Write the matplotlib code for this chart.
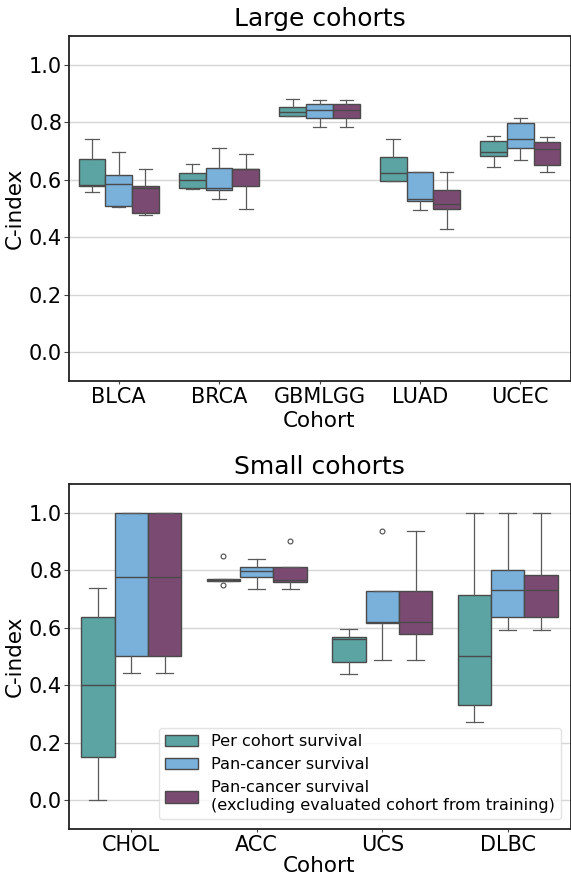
import matplotlib
matplotlib.use("Agg")
import matplotlib.pyplot as plt
from matplotlib.patches import Patch

# C-index summaries per cohort; one inner list per model, one value per cohort
SERIES = ["Per cohort survival",
          "Pan-cancer survival",
          "Pan-cancer survival\n(excluding evaluated cohort from training)"]
COLORS = ["#5ba4a3", "#79b1db", "#7b4a73"]

LARGE_COHORTS = ["BLCA", "BRCA", "GBMLGG", "LUAD", "UCEC"]
LARGE_LO = [[0.557, 0.569, 0.821, 0.595, 0.643],
            [0.504, 0.532, 0.785, 0.494, 0.669],
            [0.476, 0.497, 0.785, 0.429, 0.628]]
LARGE_Q1 = [[0.577, 0.573, 0.823, 0.595, 0.681],
            [0.508, 0.563, 0.815, 0.525, 0.711],
            [0.484, 0.580, 0.815, 0.498, 0.653]]
LARGE_MED = [[0.583, 0.598, 0.835, 0.622, 0.698],
             [0.584, 0.573, 0.844, 0.533, 0.743],
             [0.570, 0.637, 0.844, 0.516, 0.706]]
LARGE_Q3 = [[0.672, 0.624, 0.852, 0.679, 0.736],
            [0.618, 0.642, 0.864, 0.628, 0.797],
            [0.577, 0.637, 0.862, 0.563, 0.733]]
LARGE_HI = [[0.741, 0.655, 0.882, 0.742, 0.753],
            [0.695, 0.711, 0.877, 0.628, 0.815],
            [0.639, 0.690, 0.877, 0.627, 0.749]]
LARGE_FLIERS = [[[], [], [], [], []],
                [[], [], [], [], []],
                [[], [], [], [], []]]

SMALL_COHORTS = ["CHOL", "ACC", "UCS", "DLBC"]
SMALL_LO = [[0.000, 0.764, 0.438, 0.272],
            [0.444, 0.735, 0.489, 0.592],
            [0.444, 0.735, 0.489, 0.592]]
SMALL_Q1 = [[0.149, 0.764, 0.482, 0.333],
            [0.501, 0.778, 0.615, 0.637],
            [0.501, 0.760, 0.577, 0.637]]
SMALL_MED = [[0.400, 0.767, 0.560, 0.501],
             [0.778, 0.798, 0.620, 0.733],
             [0.778, 0.767, 0.621, 0.733]]
SMALL_Q3 = [[0.636, 0.768, 0.567, 0.715],
            [1.000, 0.811, 0.728, 0.800],
            [1.000, 0.811, 0.728, 0.783]]
SMALL_HI = [[0.737, 0.768, 0.594, 1.000],
            [1.000, 0.839, 0.728, 1.000],
            [1.000, 0.811, 0.936, 1.000]]
SMALL_FLIERS = [[[], [0.851, 0.750], [], []],
                [[], [], [0.936], []],
                [[], [0.903], [], []]]

LINE = "#4a4a4a"
BOX_W = 0.8 / 3

plt.rcParams['font.family'] = ['DejaVu Sans']


def draw_panel(ax, cohorts, lo, q1, med, q3, hi, fliers, title, xpad):
    # one bxp call per model, dodged around each cohort position
    for s in range(len(SERIES)):
        stats = []
        for c in range(len(cohorts)):
            stats.append({"whislo": lo[s][c], "q1": q1[s][c], "med": med[s][c],
                          "q3": q3[s][c], "whishi": hi[s][c], "fliers": fliers[s][c]})
        pos = [c + (s - 1) * BOX_W for c in range(len(cohorts))]
        ax.bxp(stats, positions=pos, widths=BOX_W, patch_artist=True,
               manage_ticks=False,
               boxprops=dict(facecolor=COLORS[s], edgecolor=LINE, linewidth=1.0),
               medianprops=dict(color=LINE, linewidth=1.0),
               whiskerprops=dict(color="#5a5a5a", linewidth=0.9),
               capprops=dict(color="#5a5a5a", linewidth=0.9),
               flierprops=dict(marker="o", markersize=3.5, markerfacecolor="none",
                               markeredgecolor=LINE, markeredgewidth=0.8))
    ax.set_xlim(-0.5, len(cohorts) - 0.5)
    ax.set_ylim(-0.1, 1.1)
    ax.set_xticks(range(len(cohorts)))
    ax.set_xticklabels(cohorts)
    ax.set_yticks([0.0, 0.2, 0.4, 0.6, 0.8, 1.0])
    ax.yaxis.grid(True, color="#d6d6d6", linewidth=1.0)
    ax.set_axisbelow(True)
    ax.tick_params(labelsize=15, width=0.8, color="#444444")
    ax.tick_params(axis="x", length=2.5, pad=2)
    ax.tick_params(axis="y", length=3.5, pad=1)
    for sp in ax.spines.values():
        sp.set_color("#222222")
        sp.set_linewidth(1.3)
    ax.set_xlabel("Cohort", fontsize=15.5, labelpad=xpad)
    ax.set_ylabel("C-index", fontsize=15.5, labelpad=3)
    ax.set_title(title, fontsize=18, pad=7)


fig = plt.figure(figsize=(5.71, 8.75), dpi=100)
ax1 = fig.add_axes([68.5 / 571, 1 - 381 / 875, 502 / 571, 345 / 875])
ax2 = fig.add_axes([68.5 / 571, 1 - 829 / 875, 502 / 571, 345 / 875])

draw_panel(ax1, LARGE_COHORTS, LARGE_LO, LARGE_Q1, LARGE_MED, LARGE_Q3,
           LARGE_HI, LARGE_FLIERS, "Large cohorts", 2.5)
draw_panel(ax2, SMALL_COHORTS, SMALL_LO, SMALL_Q1, SMALL_MED, SMALL_Q3,
           SMALL_HI, SMALL_FLIERS, "Small cohorts", 0.3)

handles = [Patch(facecolor=COLORS[i], edgecolor=LINE, linewidth=1.0, label=SERIES[i])
           for i in range(len(SERIES))]
ax2.legend(handles=handles, loc="lower right", fontsize=11.6, frameon=True,
           framealpha=0.8, edgecolor="#dddddd", borderaxespad=0.6)

fig.savefig("out.png", dpi=100)
